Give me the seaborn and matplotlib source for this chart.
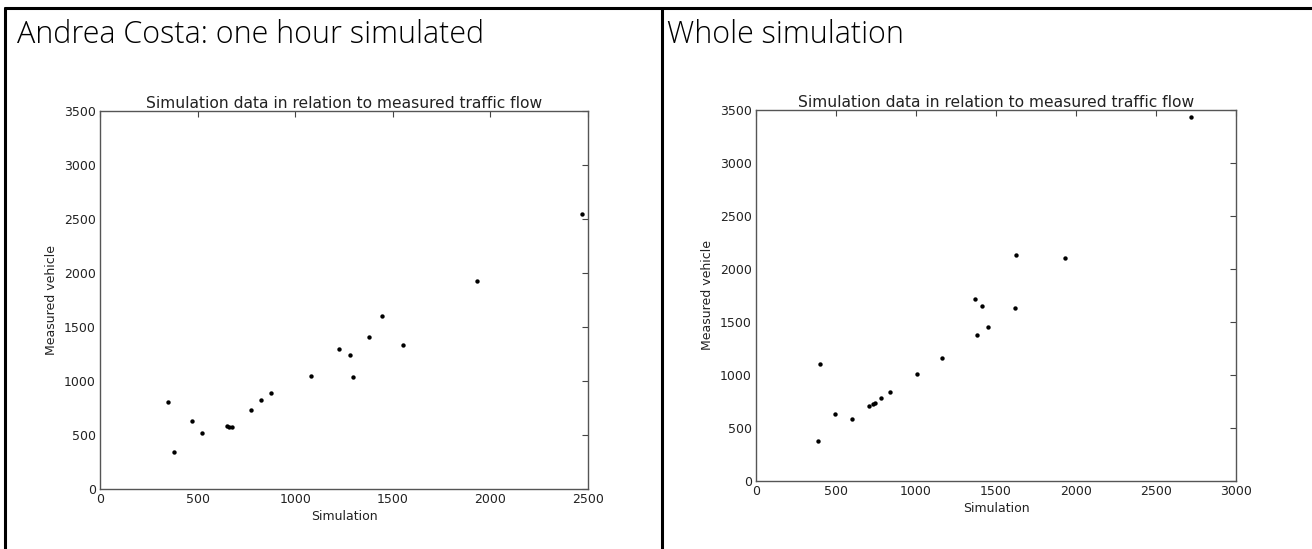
import pandas as pd
import matplotlib
matplotlib.use("Agg")
import matplotlib.pyplot as plt
import seaborn as sns

# one hour simulated (Andrea Costa)
hour_sim = [347, 379, 472, 521, 653, 662, 678, 776, 827, 875,
            1080, 1222, 1280, 1296, 1378, 1444, 1550, 1933, 2467]
hour_meas = [805, 339, 630, 521, 586, 577, 570, 731, 827, 885,
             1046, 1293, 1243, 1040, 1410, 1602, 1330, 1929, 2549]

# whole simulation
whole_sim = [385, 400, 491, 597, 709, 732, 742, 782, 840, 1009,
             1160, 1366, 1381, 1410, 1450, 1619, 1625, 1933, 2717]
whole_meas = [378, 1108, 636, 585, 708, 730, 736, 781, 838, 1007,
              1161, 1721, 1379, 1655, 1457, 1634, 2131, 2103, 3436]

panel_titles = ["Andrea Costa: one hour simulated", "Whole simulation"]
chart_title = "Simulation data in relation to measured traffic flow"
x_ticks = [[0, 500, 1000, 1500, 2000, 2500], [0, 500, 1000, 1500, 2000, 2500, 3000]]
y_ticks = [0, 500, 1000, 1500, 2000, 2500, 3000, 3500]

sns.set_style("white")
plt.rcParams['font.family'] = ['DejaVu Sans']

W, H = 1312, 549
fig = plt.figure(figsize=(W / 100, H / 100), dpi=100)

def fx(px):
    return px / W

def fy(py):
    return 1 - py / H

# slide table borders
line_kw = dict(color="black", lw=2.2, transform=fig.transFigure, clip_on=False)
fig.add_artist(plt.Line2D([fx(5), 1.0], [fy(8), fy(8)], **line_kw))
fig.add_artist(plt.Line2D([fx(5), fx(5)], [fy(8), 0], **line_kw))
fig.add_artist(plt.Line2D([fx(662), fx(662)], [fy(8), 0], **line_kw))

fig.text(fx(17), fy(43), panel_titles[0], fontsize=22, family=["Open Sans", "DejaVu Sans"],
         fontweight="light", color="black")
fig.text(fx(667), fy(43), panel_titles[1], fontsize=22, family=["Open Sans", "DejaVu Sans"],
         fontweight="light", color="black")

boxes = [(100, 111, 588, 489), (756, 110, 1236, 481)]
datasets = [(hour_sim, hour_meas), (whole_sim, whole_meas)]

for i, ((l, t, r, b), (xs, ys)) in enumerate(zip(boxes, datasets)):
    ax = fig.add_axes([fx(l), fy(b), fx(r - l), (b - t) / H])
    df = pd.DataFrame({"Simulation": xs, "Measured vehicle": ys})
    sns.scatterplot(data=df, x="Simulation", y="Measured vehicle", ax=ax,
                    color="black", s=10, linewidth=0)
    ax.set_xlim(x_ticks[i][0], x_ticks[i][-1])
    ax.set_ylim(0, 3500)
    ax.set_xticks(x_ticks[i])
    ax.set_yticks(y_ticks)
    ax.set_title(chart_title, fontsize=11.2, color="#222222", pad=2)
    ax.set_xlabel("Simulation", fontsize=9, color="#222222", labelpad=3)
    ax.set_ylabel("Measured vehicle", fontsize=9, color="#222222", labelpad=4)
    ax.tick_params(direction="in", length=4, width=0.8, top=True, right=True,
                   labelsize=9, colors="#444444", labelcolor="#222222", pad=3)
    for sp in ax.spines.values():
        sp.set_color("#555555")
        sp.set_linewidth(1.0)

fig.savefig("out.png", dpi=100)
